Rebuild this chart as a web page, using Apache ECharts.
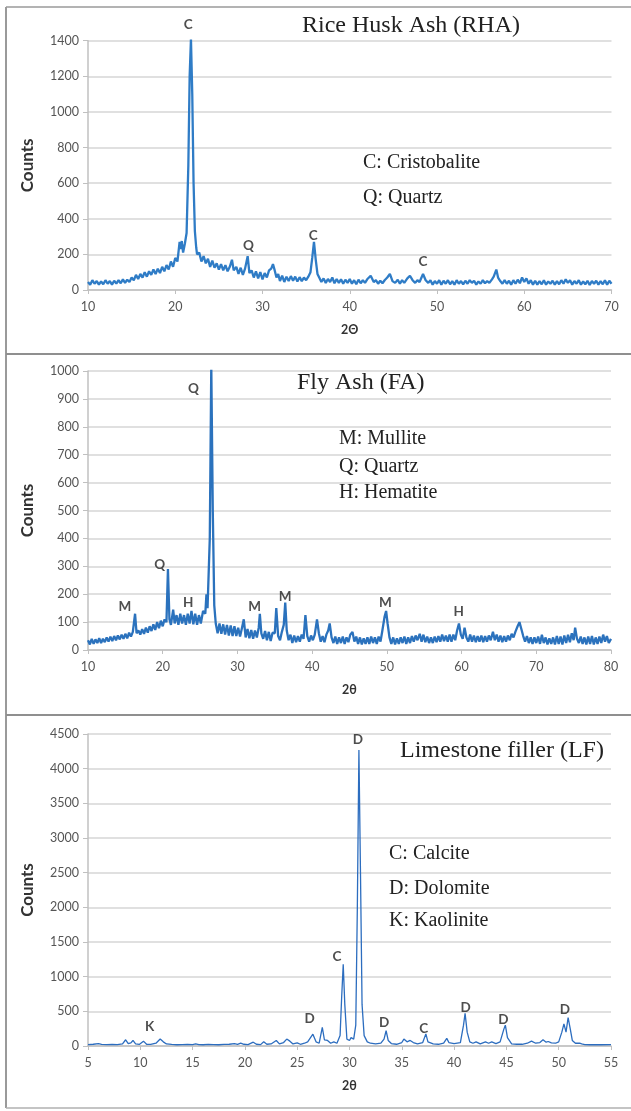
<!DOCTYPE html>
<html><head><meta charset="utf-8">
<script src="https://cdn.jsdelivr.net/npm/echarts@6/dist/echarts.min.js"></script>
<style>html,body{margin:0;padding:0;background:#fff}#c{width:631px;height:1111px}</style>
</head><body><div id="c"></div><script>
// ---- Data ----
const panelTitles = ['Rice Husk Ash (RHA)', 'Fly Ash (FA)', 'Limestone filler (LF)'];
const rhaLegend = ['C: Cristobalite', 'Q: Quartz'];
const faLegend = ['M: Mullite', 'Q: Quartz', 'H: Hematite'];
const lfLegend = ['C: Calcite', 'D: Dolomite', 'K: Kaolinite'];

// [2theta, counts]
const rhaPattern = [
[10,45],[10.25,30],[10.5,55],[10.75,35],[11,50],[11.25,30],[11.5,48],[11.75,32],[12,55],[12.25,35],[12.5,50],[12.75,30],
[13,52],[13.25,36],[13.5,55],[13.75,38],[14,60],[14.25,40],[14.5,58],[14.75,45],[15,70],[15.25,55],[15.5,85],[15.75,62],
[16,90],[16.25,70],[16.5,100],[16.75,75],[17,105],[17.25,85],[17.5,115],[17.75,90],[18,120],[18.25,95],[18.5,130],[18.75,105],
[19,140],[19.25,115],[19.5,160],[19.75,130],[20,180],[20.25,160],[20.5,270],[20.6,230],[20.75,275],[20.9,210],[21.1,260],
[21.3,320],[21.5,700],[21.65,1200],[21.8,1410],[21.95,1100],[22.1,600],[22.25,330],[22.4,240],[22.5,200],[22.75,210],
[23,160],[23.25,190],[23.5,150],[23.75,175],[24,130],[24.25,165],[24.5,125],[24.75,150],[25,115],[25.25,145],[25.5,110],
[25.75,140],[26,105],[26.25,130],[26.5,170],[26.7,110],[27,130],[27.25,90],[27.5,125],[27.75,85],[28,120],[28.3,190],
[28.5,95],[28.75,110],[29,70],[29.25,105],[29.5,65],[29.75,100],[30,60],[30.25,95],[30.5,70],[30.75,110],[31,120],
[31.2,145],[31.4,110],[31.6,70],[31.8,90],[32,50],[32.25,80],[32.5,45],[32.75,75],[33,50],[33.25,78],[33.5,52],[33.75,75],
[34,48],[34.25,72],[34.5,50],[34.75,70],[35,55],[35.25,75],[35.5,100],[35.7,180],[35.9,270],[36.1,170],[36.3,90],[36.5,70],
[36.75,45],[37,65],[37.25,40],[37.5,62],[37.75,45],[38,70],[38.25,38],[38.5,62],[38.75,40],[39,60],[39.25,35],[39.5,58],
[39.75,40],[40,62],[40.25,35],[40.5,55],[40.75,32],[41,58],[41.25,38],[41.5,55],[41.75,40],[42,60],[42.4,80],[42.75,45],
[43,55],[43.25,35],[43.5,52],[43.75,38],[44,55],[44.3,70],[44.6,90],[44.9,50],[45.2,40],[45.5,58],[45.75,35],[46,55],
[46.25,40],[46.6,65],[46.9,80],[47.2,55],[47.5,40],[47.75,55],[48,45],[48.4,90],[48.7,55],[49,40],[49.25,55],[49.5,30],
[49.75,50],[50,35],[50.25,55],[50.5,30],[50.75,52],[51,35],[51.25,55],[51.5,32],[51.75,50],[52,30],[52.25,55],[52.5,35],
[52.75,50],[53,32],[53.25,52],[53.5,35],[53.75,55],[54,40],[54.25,52],[54.5,30],[54.75,48],[55,35],[55.25,55],[55.5,38],
[55.75,50],[56,40],[56.3,60],[56.5,75],[56.8,115],[57,70],[57.25,50],[57.5,35],[57.75,55],[58,35],[58.25,52],[58.5,30],
[58.75,55],[59,35],[59.25,58],[59.5,38],[59.75,70],[60,45],[60.25,65],[60.5,35],[60.75,55],[61,30],[61.25,52],[61.5,30],
[61.75,50],[62,32],[62.25,55],[62.5,30],[62.75,48],[63,35],[63.25,52],[63.5,30],[63.75,50],[64,32],[64.25,55],[64.5,35],
[64.75,60],[65,40],[65.25,55],[65.5,30],[65.75,50],[66,35],[66.25,55],[66.5,30],[66.75,48],[67,32],[67.25,52],[67.5,28],
[67.75,50],[68,35],[68.25,52],[68.5,30],[68.75,50],[69,32],[69.25,55],[69.5,30],[69.75,52],[70,35]
];

const faPattern = [
[10,35],[10.25,20],[10.5,40],[10.75,22],[11,38],[11.25,25],[11.5,42],[11.75,25],[12,40],[12.25,28],[12.5,45],[12.75,30],
[13,48],[13.25,32],[13.5,50],[13.75,35],[14,52],[14.25,38],[14.5,55],[14.75,40],[15,58],[15.25,42],[15.5,62],[15.75,48],
[16,65],[16.3,130],[16.5,60],[16.75,70],[17,55],[17.25,75],[17.5,58],[17.75,80],[18,62],[18.25,85],[18.5,68],[18.75,92],
[19,72],[19.25,100],[19.5,78],[19.75,105],[20,85],[20.25,110],[20.5,100],[20.7,290],[20.9,110],[21.1,90],[21.4,145],
[21.6,95],[21.85,125],[22.1,90],[22.35,130],[22.6,95],[22.85,125],[23.1,90],[23.35,130],[23.6,95],[23.85,140],[24.1,92],
[24.35,130],[24.6,90],[24.85,125],[25.1,95],[25.4,140],[25.7,130],[25.85,200],[26,150],[26.3,400],[26.5,1020],[26.7,500],
[26.9,160],[27.1,95],[27.35,60],[27.6,95],[27.85,58],[28.1,92],[28.35,55],[28.6,90],[28.85,52],[29.1,88],[29.35,50],
[29.6,85],[29.85,50],[30.1,80],[30.35,48],[30.6,78],[30.85,110],[31.1,45],[31.35,75],[31.6,42],[31.85,72],[32.1,40],
[32.35,70],[32.6,45],[32.85,80],[33,130],[33.2,60],[33.45,40],[33.7,68],[33.95,35],[34.2,65],[34.45,32],[34.7,62],[35,60],
[35.2,150],[35.45,50],[35.7,35],[35.95,65],[36.2,90],[36.4,170],[36.6,70],[36.85,35],[37.1,55],[37.35,25],[37.6,52],
[37.85,28],[38.1,50],[38.35,30],[38.6,55],[38.85,40],[39.1,125],[39.35,50],[39.6,30],[39.85,52],[40.1,35],[40.35,55],
[40.65,110],[40.9,60],[41.15,30],[41.4,50],[41.65,28],[41.9,55],[42.15,70],[42.35,95],[42.6,45],[42.85,25],[43.1,48],
[43.35,22],[43.6,45],[43.85,25],[44.1,48],[44.35,22],[44.6,45],[44.85,28],[45.1,55],[45.4,65],[45.65,30],[45.9,48],
[46.15,22],[46.4,45],[46.65,20],[46.9,42],[47.15,22],[47.4,45],[47.65,22],[47.9,48],[48.15,25],[48.4,45],[48.65,22],
[48.9,48],[49.15,30],[49.4,70],[49.7,120],[49.9,140],[50.1,95],[50.35,45],[50.6,22],[50.85,45],[51.1,20],[51.35,42],
[51.6,22],[51.85,45],[52.1,25],[52.35,48],[52.6,22],[52.85,45],[53.1,25],[53.35,50],[53.6,30],[53.85,52],[54.1,35],
[54.4,58],[54.65,30],[54.9,55],[55.15,28],[55.4,48],[55.65,25],[55.9,45],[56.15,25],[56.4,48],[56.65,28],[56.9,50],
[57.15,30],[57.4,55],[57.65,32],[57.9,52],[58.15,30],[58.4,55],[58.65,30],[58.9,55],[59.15,35],[59.4,70],[59.65,95],
[59.9,55],[60.15,40],[60.4,80],[60.65,45],[60.9,30],[61.15,55],[61.4,30],[61.65,52],[61.9,28],[62.15,50],[62.4,30],
[62.65,52],[62.9,28],[63.15,50],[63.4,30],[63.65,52],[63.9,35],[64.2,65],[64.45,35],[64.7,55],[64.95,30],[65.2,52],
[65.45,28],[65.7,50],[65.95,30],[66.2,52],[66.45,35],[66.7,58],[66.95,45],[67.2,65],[67.5,85],[67.75,100],[68,75],
[68.25,50],[68.5,30],[68.75,50],[69,25],[69.25,45],[69.5,22],[69.75,45],[70,25],[70.25,48],[70.5,22],[70.75,55],[71,25],
[71.25,45],[71.5,20],[71.75,42],[72,22],[72.25,45],[72.5,20],[72.75,50],[73,22],[73.25,48],[73.5,20],[73.75,52],[74,25],
[74.25,55],[74.5,28],[74.75,60],[75,35],[75.2,80],[75.45,40],[75.7,25],[75.95,48],[76.2,22],[76.45,45],[76.7,20],
[76.95,48],[77.2,22],[77.45,50],[77.7,20],[77.95,45],[78.2,22],[78.45,48],[78.7,25],[78.95,55],[79.2,30],[79.45,50],
[79.7,25],[80,40]
];

const lfPattern = [
[5,20],[5.5,25],[6,35],[6.3,22],[6.8,20],[7.3,22],[7.8,20],[8.3,30],[8.6,90],[8.85,35],[9.1,45],[9.3,80],[9.55,30],
[9.9,22],[10.3,70],[10.6,25],[11,22],[11.5,40],[11.9,100],[12.2,60],[12.5,30],[13,22],[13.5,18],[14,20],[14.5,22],
[15,20],[15.3,30],[15.6,20],[16,18],[16.5,22],[17,20],[17.5,18],[18,22],[18.5,25],[19,35],[19.3,25],[19.6,40],[19.9,25],
[20.3,20],[20.8,55],[21.1,25],[21.5,20],[21.8,60],[22.1,25],[22.5,30],[23,80],[23.3,30],[23.7,50],[24,100],[24.3,70],
[24.6,30],[25,45],[25.3,25],[25.7,40],[26,60],[26.5,170],[26.8,60],[27.1,40],[27.4,270],[27.6,90],[27.9,80],[28.2,40],
[28.5,60],[28.8,40],[29.1,150],[29.25,700],[29.4,1180],[29.55,600],[29.75,100],[30,80],[30.15,120],[30.4,100],[30.6,300],
[30.75,2000],[30.9,4270],[31.05,2500],[31.2,600],[31.4,150],[31.7,60],[32,40],[32.5,30],[33,40],[33.3,100],[33.5,220],
[33.7,80],[34,35],[34.5,25],[35,50],[35.2,100],[35.5,60],[35.8,80],[36.1,50],[36.5,30],[37,50],[37.3,175],[37.5,60],
[38,30],[38.5,25],[39,40],[39.3,110],[39.5,50],[40,35],[40.6,50],[40.9,300],[41.05,470],[41.25,200],[41.5,60],[41.8,40],
[42.1,60],[42.5,30],[43,60],[43.3,40],[43.6,60],[44,35],[44.4,60],[44.75,240],[44.9,300],[45.1,120],[45.5,30],[46,25],
[46.5,25],[47,40],[47.4,70],[47.8,40],[48.2,50],[48.5,90],[48.8,55],[49,65],[49.3,45],[49.7,40],[50,60],[50.3,200],
[50.5,320],[50.7,200],[50.9,410],[51.1,250],[51.3,80],[51.6,40],[52,40],[52.2,30],[52.5,20],[53,18],[54,18],[55,20]
];

// peak annotations [2theta, counts, letter]
const rhaPeaks = [[21.5,1490,'C'],[28.4,248,'Q'],[35.8,308,'C'],[48.4,162,'C']];
const faPeaks = [[14.95,154,'M'],[19.6,307,'Q'],[23.4,168,'H'],[24.1,936,'Q'],[32.3,157,'M'],[36.4,193,'M'],[49.8,171,'M'],[59.6,139,'H']];
const lfPeaks = [[30.8,4417,'D'],[28.8,1296,'C'],[10.9,276,'K'],[26.2,392,'D'],[33.3,338,'D'],[37.1,251,'C'],[41.1,556,'D'],[44.7,377,'D'],[50.6,522,'D']];

// axis ranges
const xRanges = [[10,70,10],[10,80,10],[5,55,5]];
const yRanges = [[0,1400,200],[0,1000,100],[0,4500,500]];
const xNames = ['2Θ','2θ','2θ'];

// ---- Layout ----
const grids = [
  {left:88, top:40.7, width:523.5, height:249.3},
  {left:88, top:371, width:523, height:279},
  {left:88, top:734, width:523, height:312}
];
const sans = 'Lato, "Open Sans", sans-serif';
const serif = '"Liberation Serif", "DejaVu Serif", serif';
const lineColors = ['#2f7cc6','#2b72bd','#2c6dbf'];
const lineWidths = [2.3,2.3,1.3];
const patterns = [rhaPattern, faPattern, lfPattern];
const peaks = [rhaPeaks, faPeaks, lfPeaks];

const xAxes = [], yAxes = [], series = [];
for (let i = 0; i < 3; i++) {
  xAxes.push({
    type:'value', gridIndex:i, min:xRanges[i][0], max:xRanges[i][1], interval:xRanges[i][2],
    name:xNames[i], nameLocation:'middle', nameGap:33,
    nameTextStyle:{fontFamily:sans, fontWeight:'bold', fontSize:12.5, color:'#333'},
    axisLine:{show:true, lineStyle:{color:'#c0c0c0', width:1.5}},
    axisTick:{show:true, length:4, lineStyle:{color:'#c0c0c0'}},
    axisLabel:{fontFamily:sans, fontSize:12.5, color:'#555', margin:10},
    splitLine:{show:false}
  });
  yAxes.push({
    type:'value', gridIndex:i, min:yRanges[i][0], max:yRanges[i][1], interval:yRanges[i][2],
    name:'Counts', nameLocation:'middle', nameGap:52, nameRotate:90,
    nameTextStyle:{fontFamily:sans, fontWeight:'bold', fontSize:17, color:'#333'},
    axisLine:{show:true, lineStyle:{color:'#c0c0c0', width:1.5}},
    axisTick:{show:true, length:5, lineStyle:{color:'#c0c0c0'}},
    axisLabel:{fontFamily:sans, fontSize:12.5, color:'#555', margin:9, formatter:v => String(v)},
    splitLine:{show:true, lineStyle:{color:'#d6d6d6', width:1.5}}
  });
  series.push({
    type:'line', xAxisIndex:i, yAxisIndex:i, data:patterns[i], showSymbol:false, symbol:'none',
    lineStyle:{color:lineColors[i], width:lineWidths[i]}, animation:false, z:3
  });
  series.push({
    type:'scatter', xAxisIndex:i, yAxisIndex:i, clip:false, symbolSize:0, silent:true,
    data:peaks[i].map(p => ({value:[p[0], p[1]], name:p[2]})),
    label:{show:true, position:'inside', formatter:p => p.name,
      fontFamily:sans, fontWeight:'bold', fontSize:13.5, color:'#222'},
    animation:false, z:4
  });
}

function txt(x, y, s, size, align) {
  return {type:'text', x:x, y:y, z:10, style:{text:s, font: size + 'px ' + serif, fill:'#222',
    align: align || 'left', verticalAlign:'middle'}};
}
const graphics = [
  // panel borders
  {type:'line', shape:{x1:6, y1:7, x2:631, y2:7}, style:{stroke:'#9a9a9a', lineWidth:1.5}},
  {type:'line', shape:{x1:6, y1:7, x2:6, y2:1108}, style:{stroke:'#9a9a9a', lineWidth:2}},
  {type:'line', shape:{x1:6, y1:354, x2:631, y2:354}, style:{stroke:'#8f8f8f', lineWidth:2}},
  {type:'line', shape:{x1:6, y1:715, x2:631, y2:715}, style:{stroke:'#8f8f8f', lineWidth:2}},
  {type:'line', shape:{x1:6, y1:1108, x2:631, y2:1108}, style:{stroke:'#b0b0b0', lineWidth:1.5}},
  // titles
  txt(302, 26, panelTitles[0], 24),
  txt(297, 383, panelTitles[1], 24),
  txt(400, 751, panelTitles[2], 24),
  // legends
  txt(363, 163, rhaLegend[0], 20), txt(363, 198, rhaLegend[1], 20),
  txt(339, 439, faLegend[0], 20), txt(339, 467, faLegend[1], 20), txt(339, 493, faLegend[2], 20),
  txt(389, 854, lfLegend[0], 20), txt(389, 889, lfLegend[1], 20), txt(389, 921, lfLegend[2], 20)
];

const chart = echarts.init(document.getElementById('c'), null, {renderer:'canvas'});
chart.setOption({
  backgroundColor:'#fff', animation:false,
  grid:grids, xAxis:xAxes, yAxis:yAxes, series:series, graphic:graphics
});
</script></body></html>
